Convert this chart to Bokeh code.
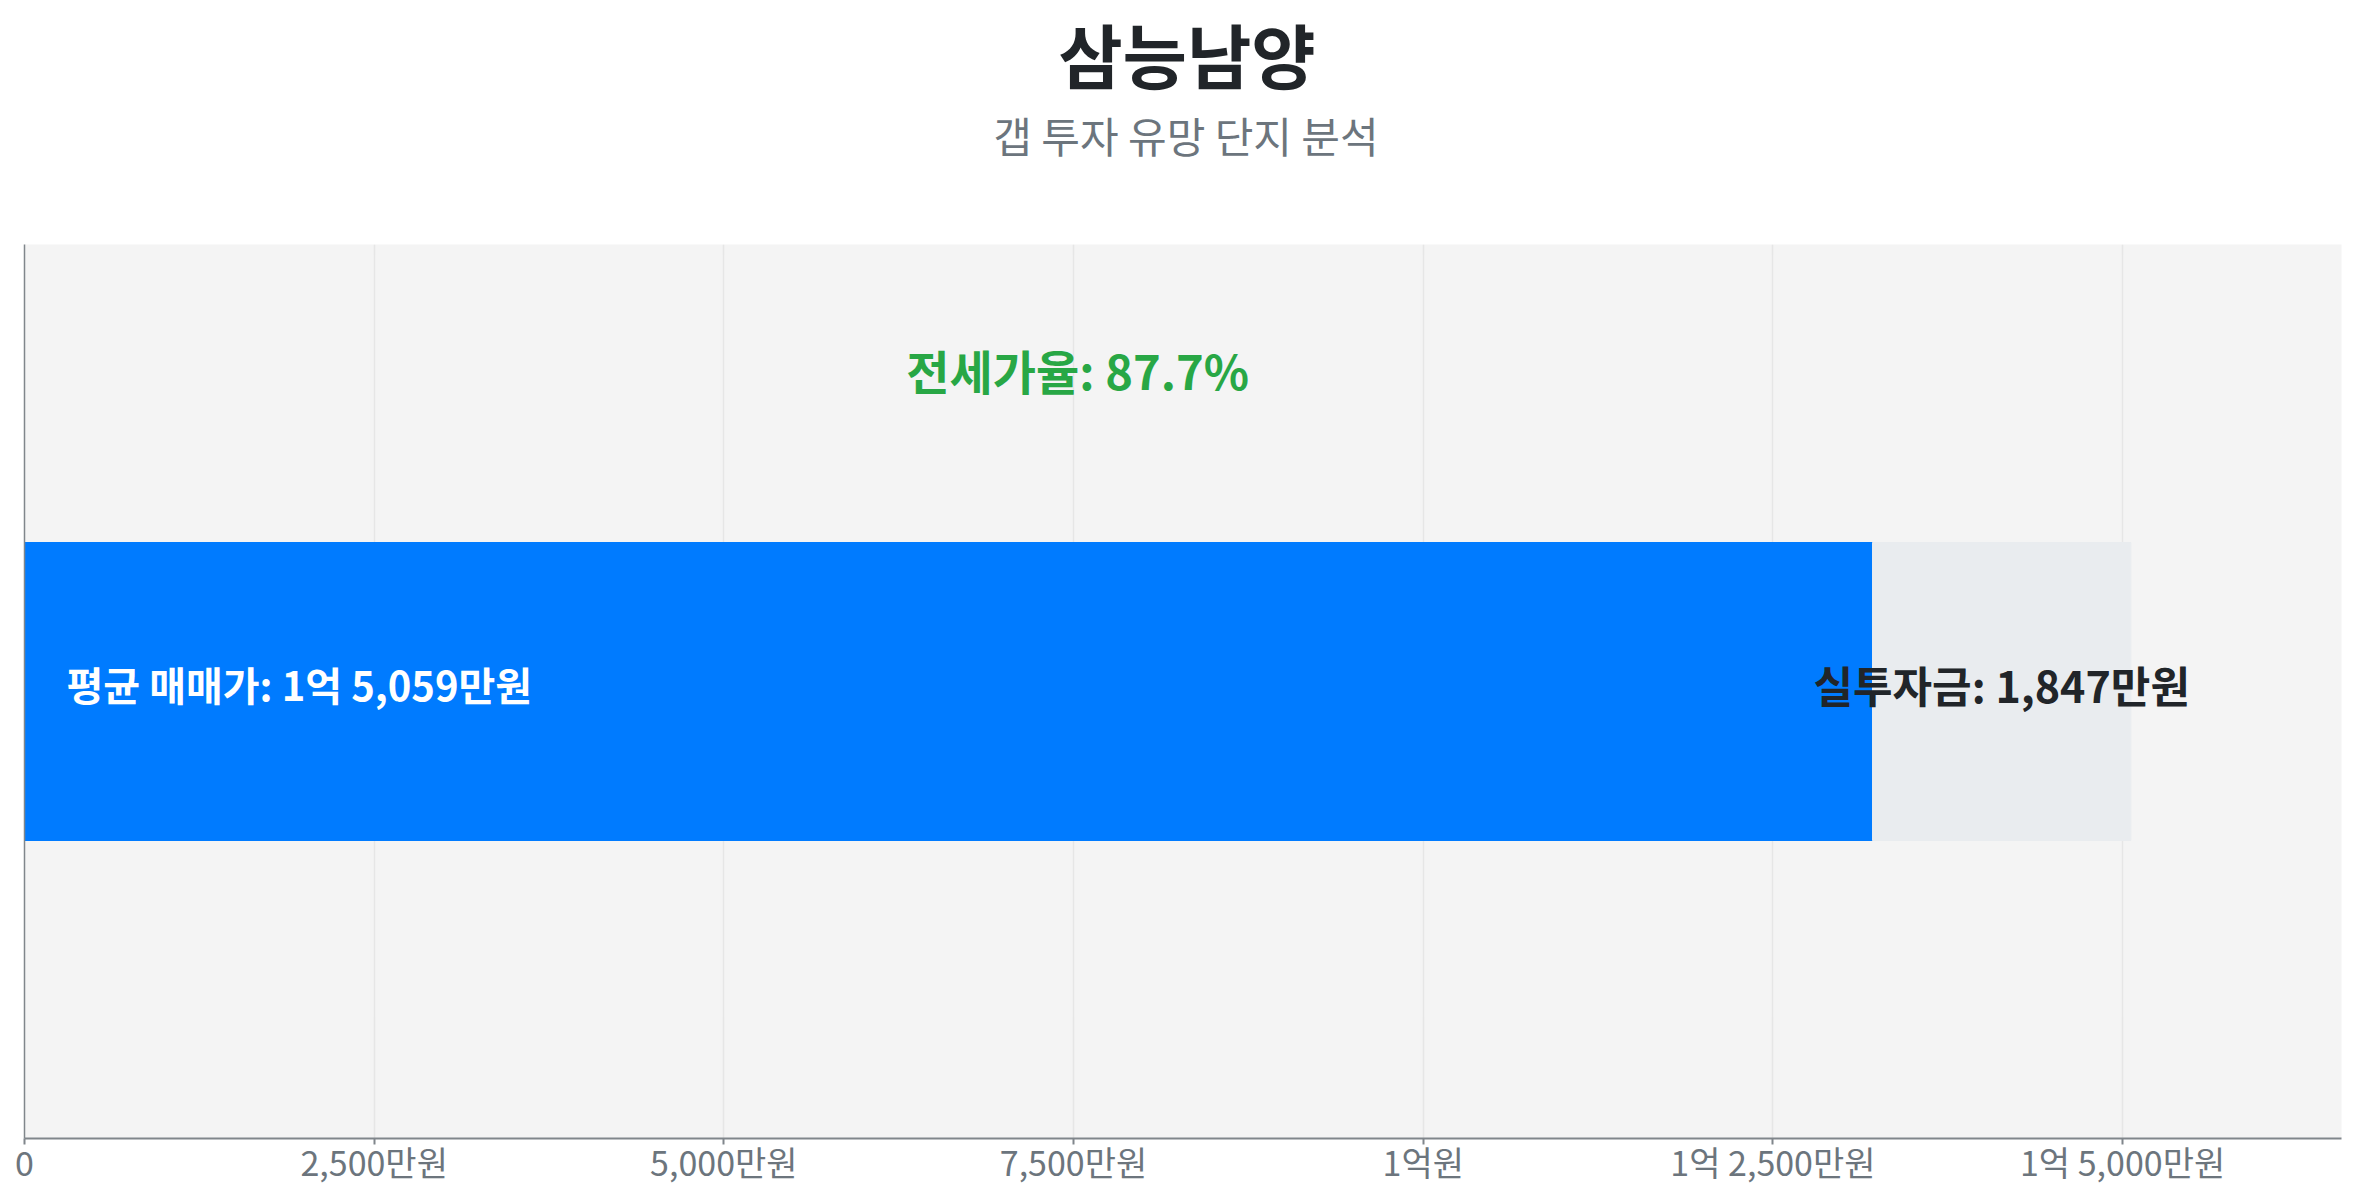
from bokeh.plotting import figure
from bokeh.models import Range1d, FixedTicker
from bokeh.layouts import column
from bokeh.core.properties import value
from bokeh.embed import file_html
from bokeh.resources import INLINE

# ---- data (만원) ----
complex_name = "삼능남양"
subtitle_text = "갭 투자 유망 단지 분석"
avg_sale_price = 15059
investment_gap = 1847
jeonse_price = avg_sale_price - investment_gap
tick_values = [0, 2500, 5000, 7500, 10000, 12500, 15000]
tick_labels = ["0", "2,500만원", "5,000만원", "7,500만원", "1억원", "1억 2,500만원", "1억 5,000만원"]


def fmt_won(v):
    eok, man = divmod(v, 10000)
    if eok and man:
        return f"{eok}억 {man:,}만원"
    if eok:
        return f"{eok}억원"
    return f"{man:,}만원"


ratio = jeonse_price / avg_sale_price * 100
FONT = "Noto Sans CJK KR"
W = 2350
HEAD_H = 244

# ---- heading strip (pixel coordinates: x to the right, y downwards) ----
head = figure(width=W, height=HEAD_H, output_backend="svg", toolbar_location=None,
              x_range=Range1d(0, W), y_range=Range1d(HEAD_H, 0),
              x_axis_type=None, y_axis_type=None, min_border=0)
head.outline_line_color = None
head.background_fill_color = "white"
head.border_fill_color = "white"
head.grid.visible = False
head.text(x=[1179], y=[53], text=[complex_name], text_font=value(FONT), text_font_style="bold",
          text_font_size=value("70px"), text_color="#212529", text_align="center", text_baseline="middle")
head.text(x=[1178], y=[134], text=[subtitle_text], text_font=value(FONT), text_font_style="normal",
          text_font_size=value("42px"), text_color="#6c757d", text_align="center", text_baseline="middle")

# ---- chart ----
p = figure(width=W, height=951, output_backend="svg", toolbar_location=None,
           x_range=Range1d(0, avg_sale_price * 1.1), y_range=Range1d(-1.5, 1.5),
           min_border_left=24, min_border_right=9, min_border_bottom=57, min_border_top=0)
p.title.visible = False
p.background_fill_color = "#f4f4f4"
p.border_fill_color = "white"
p.outline_line_color = None

p.hbar(y=[0], left=[0], right=[jeonse_price], height=1, color="#007bff")
p.hbar(y=[0], left=[jeonse_price], right=[avg_sale_price], height=1, color="#e9ecef")

p.text(x=[0], y=[0], text=[f"평균 매매가: {fmt_won(avg_sale_price)}"], x_offset=42, y_offset=-8,
       text_font=value(FONT), text_font_style="bold", text_font_size=value("40px"),
       text_color="white", text_align="left", text_baseline="middle")
p.text(x=[(jeonse_price + avg_sale_price) / 2], y=[0], text=[f"실투자금: {fmt_won(investment_gap)}"],
       y_offset=-8,
       text_font=value(FONT), text_font_style="bold", text_font_size=value("43px"),
       text_color="#212529", text_align="center", text_baseline="middle")
p.text(x=[avg_sale_price / 2], y=[1.08], text=[f"전세가율: {ratio:.1f}%"],
       text_font=value(FONT), text_font_style="bold", text_font_size=value("47px"),
       text_color="#28a745", text_align="center", text_baseline="middle")

p.xaxis.ticker = FixedTicker(ticks=tick_values)
p.xaxis.major_label_overrides = {v: l for v, l in zip(tick_values, tick_labels)}
p.xaxis.major_label_text_font = FONT
p.xaxis.major_label_text_font_size = "34px"
p.xaxis.major_label_text_color = "#6c757d"
p.xaxis.major_label_standoff = -8
p.xaxis.axis_line_color = "#80868b"
p.xaxis.axis_line_width = 2
p.xaxis.major_tick_line_color = "#80868b"
p.xaxis.major_tick_line_width = 2
p.xaxis.major_tick_out = 6
p.xaxis.major_tick_in = 0
p.xaxis.minor_tick_line_color = None

p.yaxis.ticker = FixedTicker(ticks=[])
p.yaxis.major_label_text_font_size = "0px"
p.yaxis.major_tick_line_color = None
p.yaxis.minor_tick_line_color = None
p.yaxis.axis_line_color = "#80868b"
p.yaxis.axis_line_width = 1.5

p.xgrid.grid_line_color = "#e6e6e6"
p.xgrid.grid_line_width = 1.5
p.ygrid.visible = False

layout = column(head, p, spacing=0)
open("out.html", "w").write(file_html(layout, INLINE))
